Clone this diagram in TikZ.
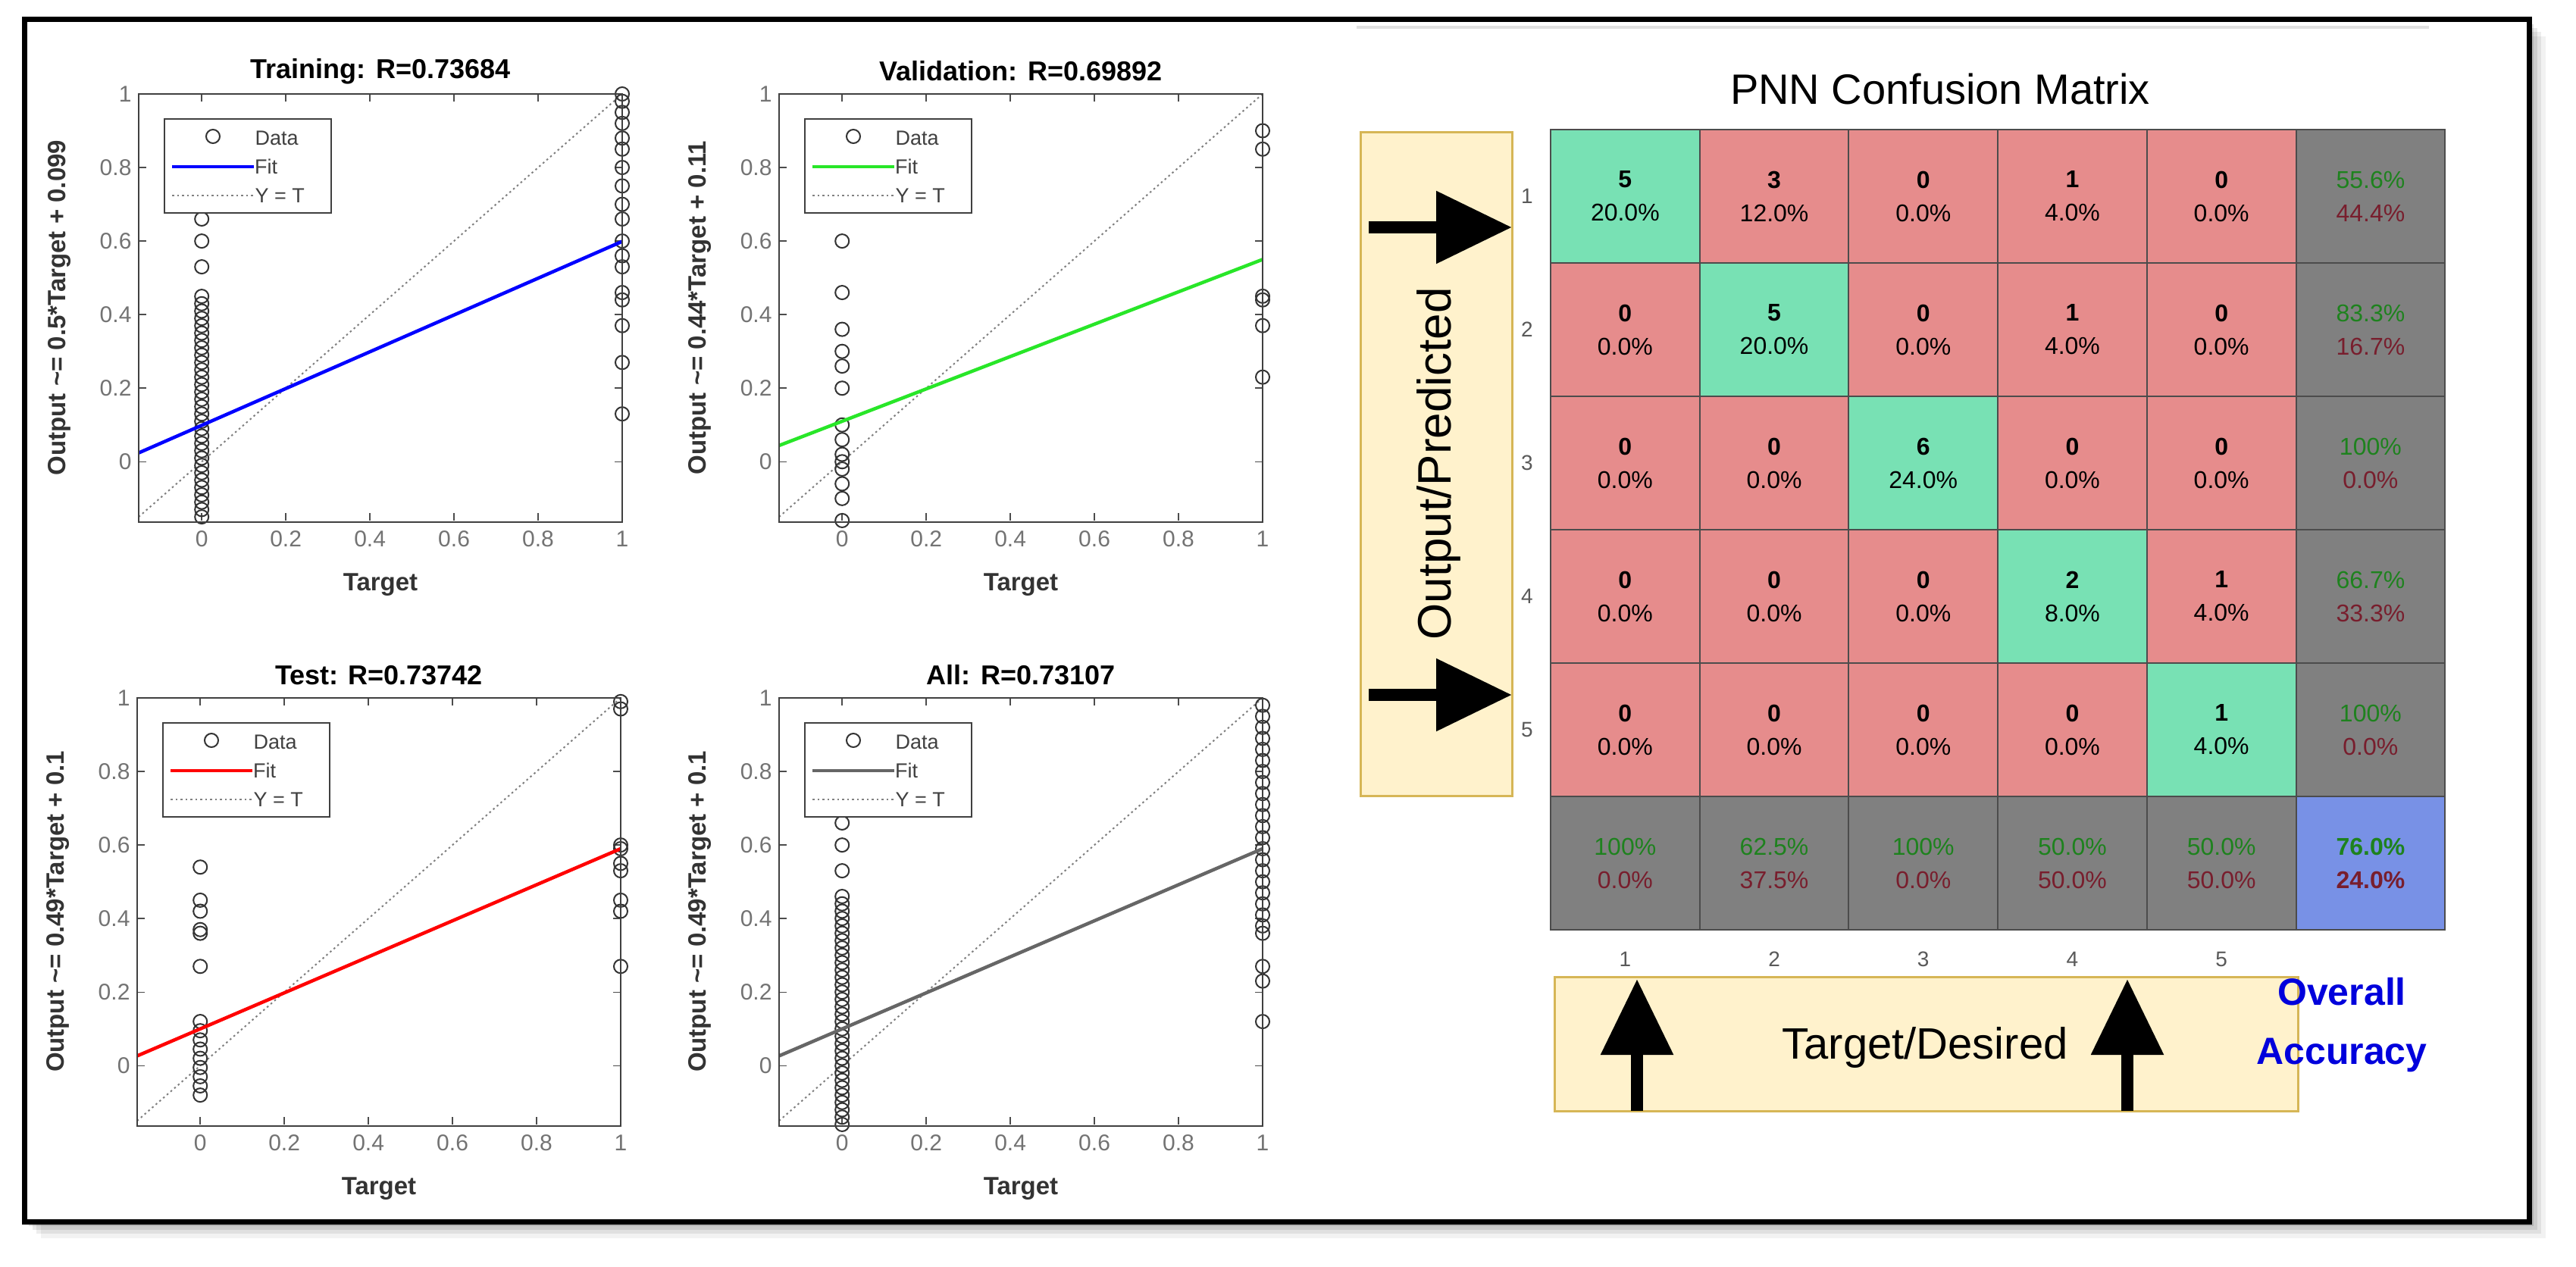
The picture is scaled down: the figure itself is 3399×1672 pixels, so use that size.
\documentclass[tikz,border=0pt]{standalone}
\usepackage{fontspec}
\setmainfont{Liberation Sans}
\usetikzlibrary{arrows.meta}
\definecolor{cgreen}{RGB}{120,225,180}
\definecolor{cred}{RGB}{230,140,140}
\definecolor{cgray}{RGB}{128,128,128}
\definecolor{cblue}{RGB}{120,145,230}
\definecolor{byel}{RGB}{255,242,204}
\definecolor{bbord}{RGB}{214,182,86}
\definecolor{tgreen}{RGB}{30,130,30}
\definecolor{tred}{RGB}{120,30,45}
\definecolor{oblue}{RGB}{0,0,220}
\definecolor{fitgreen}{RGB}{40,230,40}
\newcommand\fs[2]{\fontsize{#1}{#2}\selectfont}
\tikzset{
  axisline/.style={draw=black!75,line width=2pt},
  ptitle/.style={font=\fs{36pt}{40pt}\bfseries},
  plabel/.style={font=\fs{33pt}{38pt}\bfseries, text=black!80},
  tick/.style={font=\fs{30pt}{34pt}, text=black!55},
  dat/.style={draw=black!80,line width=2pt},
  yt/.style={gray,line width=2pt,dash pattern=on 2.5pt off 4pt},
  legbox/.style={draw=black!75,line width=2pt,fill=white},
  legtext/.style={font=\fs{27pt}{30pt}, text=black!75, anchor=west},
  cell/.style={draw=black!70,line width=2pt,minimum width=196.7pt,minimum height=176pt,inner sep=0pt,align=center,font=\fs{32pt}{46pt}},
  ybox/.style={fill=byel,draw=bbord,line width=3pt},
  bigarrow/.style={line width=16pt,-{Triangle[length=100pt,width=92pt]}},
}
\newcommand\panel[9]{%
  \node[ptitle] (t-#3) at ({#1+319},{#2-30}) {#3};
  \node[plabel,rotate=90] at ({#1-105},{#2+282}) {#4};
  \node[plabel] at ({#1+319},{#2+648}) {Target};
  \begin{scope}[shift={({#1+83.2},{#2+485.3})}, x=554.8pt, y=485.3pt]
    \foreach \t/\l in {0/0,0.2/0.2,0.4/0.4,0.6/0.6,0.8/0.8,1/1}{
      \draw[black!70,line width=1.5pt] (\t,-0.16) -- ++(0,0.02);
      \draw[black!70,line width=1.5pt] (\t,1) -- ++(0,-0.02);
      \draw[black!70,line width=1.5pt] (-0.15,\t) -- ++(0.018,0);
      \draw[black!70,line width=1.5pt] (1,\t) -- ++(-0.018,0);
      \node[tick,below=10pt] at (\t,-0.16) {\l};
      \node[tick,left=6pt] at (-0.15,\t) {\l};
    }
    \draw[yt] (-0.15,-0.15) -- (1,1);
    \foreach \v in {#8} \draw[dat] (0,\v) circle[radius=9pt];
    \foreach \v in {#9} \draw[dat] (1,\v) circle[radius=9pt];
    \draw[#5,line width=4.5pt] (-0.15,{#7-0.15*#6}) -- (1,{#6+#7});
  \end{scope}
  \draw[axisline] ({#1},{#2}) rectangle ({#1+638},{#2+565});
  \draw[legbox] ({#1+34},{#2+33}) rectangle ({#1+254},{#2+157});
  \draw[dat] ({#1+98},{#2+56}) circle[radius=9pt];
  \node[legtext] at ({#1+150},{#2+58}) {Data};
  \draw[#5,line width=4.5pt] ({#1+44},{#2+96}) -- ({#1+152},{#2+96});
  \node[legtext,inner xsep=1pt] at ({#1+152},{#2+96}) {Fit};
  \draw[yt] ({#1+44},{#2+134}) -- ({#1+152},{#2+134});
  \node[legtext] at ({#1+150},{#2+134}) {Y = T};
}
\begin{document}
\begin{tikzpicture}[x=1pt,y=-1pt]
\useasboundingbox (0,0) rectangle (3399,1672);
\fill[white] (0,0) rectangle (3399,1672);
% shadow
\foreach \o/\op in {22/0.05,16/0.07,11/0.09,6/0.12}{
  \fill[black,opacity=\op] ({32+\o},{26+\o}) rectangle ({3337+\o},{1612+\o});
}
\fill[white] (32,26) rectangle (3337,1612);
\draw[black,line width=7pt] (32,26) rectangle (3337,1612);
\draw[black!12,line width=4pt] (1790,36) -- (3205,36);

% regression panels
\panel{183}{124}{Training: R=0.73684}{Output \textasciitilde= 0.5*Target + 0.099}{blue}{0.5}{0.099}
  {-0.15,-0.13,...,0.45,0.53,0.6,0.66}
  {0.13,0.27,0.37,0.44,0.46,0.53,0.56,0.6,0.66,0.7,0.75,0.8,0.85,0.88,0.92,0.95,0.98,1.0}
\panel{1028}{124}{Validation: R=0.69892}{Output \textasciitilde= 0.44*Target + 0.11}{fitgreen}{0.44}{0.11}
  {-0.16,-0.1,-0.06,-0.02,0,0.02,0.06,0.1,0.2,0.26,0.3,0.36,0.46,0.6}
  {0.23,0.37,0.44,0.45,0.85,0.9}
\panel{181}{921}{Test: R=0.73742}{Output \textasciitilde= 0.49*Target + 0.1}{red}{0.49}{0.1}
  {-0.08,-0.055,...,0.13,0.27,0.36,0.37,0.42,0.45,0.54}
  {0.27,0.42,0.45,0.53,0.55,0.59,0.6,0.97,0.99}
\panel{1028}{921}{All: R=0.73107}{Output \textasciitilde= 0.49*Target + 0.1}{black!60}{0.49}{0.1}
  {-0.16,-0.14,...,0.47,0.53,0.6,0.66}
  {0.12,0.23,0.27,0.36,0.38,0.41,...,1.0}

% confusion matrix
\node[font=\fs{56pt}{64pt}] (cmtitle) at (2560,117) {PNN Confusion Matrix};
\foreach \i/\j/\n/\p in {
 1/1/5/20.0,1/2/3/12.0,1/3/0/0.0,1/4/1/4.0,1/5/0/0.0,
 2/1/0/0.0,2/2/5/20.0,2/3/0/0.0,2/4/1/4.0,2/5/0/0.0,
 3/1/0/0.0,3/2/0/0.0,3/3/6/24.0,3/4/0/0.0,3/5/0/0.0,
 4/1/0/0.0,4/2/0/0.0,4/3/0/0.0,4/4/2/8.0,4/5/1/4.0,
 5/1/0/0.0,5/2/0/0.0,5/3/0/0.0,5/4/0/0.0,5/5/1/4.0}{
  \ifnum\i=\j \def\cf{cgreen}\else\def\cf{cred}\fi
  \node[cell,fill=\cf] (c-\i-\j) at ({2046+196.7*(\j-0.5)},{171+176*(\i-0.5)})
    {\textbf{\n}\\[-2pt]\p\%};
}
\foreach \i/\a/\b in {1/55.6\%/44.4\%,2/83.3\%/16.7\%,3/100\%/0.0\%,4/66.7\%/33.3\%,5/100\%/0.0\%}{
  \node[cell,fill=cgray] (c-\i-6) at ({2046+196.7*5.5},{171+176*(\i-0.5)})
    {\textcolor{tgreen}{\a}\\[-2pt]\textcolor{tred}{\b}};
}
\foreach \j/\a/\b in {1/100\%/0.0\%,2/62.5\%/37.5\%,3/100\%/0.0\%,4/50.0\%/50.0\%,5/50.0\%/50.0\%}{
  \node[cell,fill=cgray] (c-6-\j) at ({2046+196.7*(\j-0.5)},{171+176*5.5})
    {\textcolor{tgreen}{\a}\\[-2pt]\textcolor{tred}{\b}};
}
\node[cell,fill=cblue] (c-6-6) at ({2046+196.7*5.5},{171+176*5.5})
  {\textbf{\textcolor{tgreen}{76.0\%}}\\[-2pt]\textbf{\textcolor{tred}{24.0\%}}};

% row / column labels
\foreach \k in {1,...,5}{
  \node[font=\fs{28pt}{32pt},text=black!65] (r\k) at (2015,{171+176*(\k-0.5)}) {\k};
  \node[font=\fs{28pt}{32pt},text=black!65] (k\k) at ({2046+196.7*(\k-0.5)},1266) {\k};
}

% side boxes
\draw[ybox] (1795,175) rectangle (1995,1050);
\node[font=\fs{62pt}{70pt},rotate=90] (outlab) at (1898,612) {Output/Predicted};
\coordinate (a1s) at (1806,300); \coordinate (a1e) at (1995,300);
\coordinate (a2s) at (1806,917); \coordinate (a2e) at (1995,917);
\draw[bigarrow] (a1s) -- (a1e);
\draw[bigarrow] (a2s) -- (a2e);

\draw[ybox] (2051,1289) rectangle (3032,1466);
\node[font=\fs{58pt}{66pt}] (tlab) at (2540,1382) {Target/Desired};
\coordinate (b1s) at (2160,1466); \coordinate (b1e) at (2160,1292);
\coordinate (b2s) at (2807,1466); \coordinate (b2e) at (2807,1292);
\draw[bigarrow] (b1s) -- (b1e);
\draw[bigarrow] (b2s) -- (b2e);

\node[font=\fs{50pt}{78pt}\bfseries,text=oblue,align=center] (ovacc) at (3090,1353) {Overall\\Accuracy};
\end{tikzpicture}
\end{document}
